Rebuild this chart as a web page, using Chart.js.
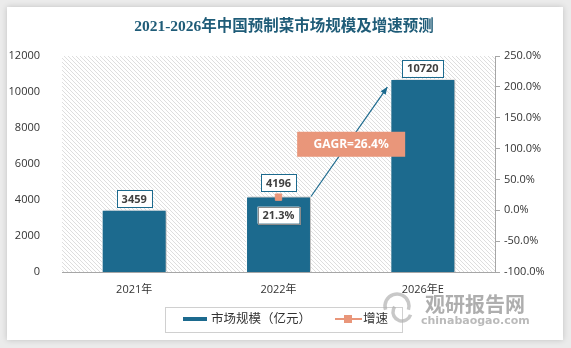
<!DOCTYPE html>
<html>
<head>
<meta charset="utf-8">
<script src="https://cdn.jsdelivr.net/npm/chart.js@4.4.1/dist/chart.umd.min.js"></script>
<style>
  html, body { margin: 0; padding: 0; background: #ebebeb; }
  #wrap { width: 571px; height: 348px; position: relative; }
</style>
</head>
<body>
<div id="wrap"><canvas id="MarketChart" width="571" height="348"></canvas></div>
<script>
var years = ['2021年', '2022年', '2026年E'];
var scaleValues = [3459, 4196, 10720];
var growthValues = [null, 21.3, null];
var cagrText = 'GAGR=26.4%';

var blue = '#1c6a8e';
var salmon = '#e9967a';
var font = '"Open Sans", "Noto Sans CJK SC", sans-serif';

// diagonal hatching for the plot area
function hatchPattern(ctx) {
    var c = document.createElement('canvas');
    c.width = 4; c.height = 4;
    var g = c.getContext('2d');
    g.fillStyle = '#ffffff';
    g.fillRect(0, 0, 4, 4);
    g.strokeStyle = '#dedede';
    g.lineWidth = 1;
    g.beginPath();
    g.moveTo(-1, -1); g.lineTo(5, 5);
    g.moveTo(-1, 3); g.lineTo(1, 5);
    g.moveTo(3, -1); g.lineTo(5, 1);
    g.stroke();
    return ctx.createPattern(c, 'repeat');
}

function labelBox(ctx, text, cx, cy, opts) {
    ctx.font = 'bold 11px ' + font;
    var w = ctx.measureText(text).width + 10;
    var h = 17;
    ctx.save();
    if (opts.shadow) {
        ctx.shadowColor = 'rgba(0,0,0,0.35)';
        ctx.shadowBlur = 3;
        ctx.shadowOffsetX = 1;
        ctx.shadowOffsetY = 1;
    }
    ctx.fillStyle = '#ffffff';
    ctx.fillRect(cx - w / 2, cy - h / 2, w, h);
    ctx.restore();
    ctx.strokeStyle = opts.border;
    ctx.lineWidth = 1;
    ctx.strokeRect(Math.round(cx - w / 2) + 0.5, Math.round(cy - h / 2) + 0.5, Math.round(w), h);
    ctx.fillStyle = '#404040';
    ctx.textAlign = 'center';
    ctx.textBaseline = 'middle';
    ctx.fillText(text, cx, cy + 1);
}

var decor = {
    id: 'decor',
    beforeDraw: function (chart) {
        var ctx = chart.ctx;
        var a = chart.chartArea;
        ctx.save();
        // card
        ctx.shadowColor = 'rgba(0,0,0,0.18)';
        ctx.shadowBlur = 6;
        ctx.fillStyle = '#ffffff';
        ctx.fillRect(7, 7, 556, 333);
        ctx.restore();
        ctx.save();
        ctx.fillStyle = hatchPattern(ctx);
        ctx.fillRect(a.left, a.top, a.right - a.left, a.bottom - a.top);
        // title
        ctx.fillStyle = '#1f5c78';
        ctx.font = 'bold 15.5px "Liberation Serif", "Noto Sans CJK SC", serif';
        ctx.textAlign = 'center';
        ctx.textBaseline = 'middle';
        ctx.fillText('2021-2026年中国预制菜市场规模及增速预测', 284, 27);
        ctx.restore();
    },
    beforeDatasetDraw: function (chart, args) {
        if (args.index === 0) {
            chart.ctx.save();
            chart.ctx.shadowColor = 'rgba(0,0,0,0.3)';
            chart.ctx.shadowBlur = 3;
            chart.ctx.shadowOffsetX = 2;
        }
    },
    afterDatasetDraw: function (chart, args) {
        if (args.index === 0) chart.ctx.restore();
    },
    afterDatasetsDraw: function (chart) {
        var ctx = chart.ctx;
        var bars = chart.getDatasetMeta(0).data;
        var pts = chart.getDatasetMeta(1).data;
        ctx.save();

        // arrow from 2022 bar to 2026 bar
        var b1 = bars[1], b2 = bars[2];
        var x0 = b1.x + b1.width / 2, y0 = b1.y;
        var x1 = b2.x - b2.width / 2 - 3, y1 = b2.y + 8;
        ctx.strokeStyle = blue;
        ctx.fillStyle = blue;
        ctx.lineWidth = 1.2;
        ctx.beginPath();
        ctx.moveTo(x0, y0);
        ctx.lineTo(x1, y1);
        ctx.stroke();
        var ang = Math.atan2(y1 - y0, x1 - x0);
        ctx.beginPath();
        ctx.moveTo(x1, y1);
        ctx.lineTo(x1 - 8 * Math.cos(ang - 0.4), y1 - 8 * Math.sin(ang - 0.4));
        ctx.lineTo(x1 - 8 * Math.cos(ang + 0.4), y1 - 8 * Math.sin(ang + 0.4));
        ctx.closePath();
        ctx.fill();

        // CAGR tag on the arrow
        var mx = (x0 + x1) / 2 + 2, my = (y0 + y1) / 2 + 2;
        ctx.fillStyle = salmon;
        ctx.fillRect(mx - 54, my - 12, 108, 25);
        ctx.fillStyle = '#ffffff';
        ctx.font = 'bold 12px ' + font;
        ctx.textAlign = 'center';
        ctx.textBaseline = 'middle';
        ctx.fillText(cagrText, mx, my + 1);

        // value labels
        bars.forEach(function (b, i) {
            labelBox(ctx, String(scaleValues[i]), b.x, b.y - 11 - (i === 1 ? 3 : 0), { border: blue });
        });
        pts.forEach(function (p, i) {
            if (growthValues[i] == null) return;
            labelBox(ctx, growthValues[i].toFixed(1) + '%', p.x, p.y + 18, { border: '#8c8c8c', shadow: true });
        });

        // legend
        ctx.strokeStyle = '#d0d0d0';
        ctx.lineWidth = 1;
        ctx.strokeRect(165.5, 307.5, 237, 25);
        ctx.fillStyle = blue;
        ctx.fillRect(183, 317, 24, 4);
        ctx.fillStyle = '#333333';
        ctx.font = '12.5px ' + font;
        ctx.textAlign = 'left';
        ctx.textBaseline = 'middle';
        ctx.fillText('市场规模（亿元）', 211, 319);
        ctx.strokeStyle = salmon;
        ctx.lineWidth = 2;
        ctx.beginPath();
        ctx.moveTo(335, 319); ctx.lineTo(362, 319);
        ctx.stroke();
        ctx.fillStyle = salmon;
        ctx.fillRect(344, 315, 8, 8);
        ctx.fillStyle = '#333333';
        ctx.fillText('增速', 363, 319);

        // site mark
        ctx.globalAlpha = 0.7;
        ctx.strokeStyle = '#b0b0b0';
        ctx.lineWidth = 3.5;
        ctx.beginPath();
        ctx.arc(397, 306, 12, Math.PI * 0.9, Math.PI * 2.1);
        ctx.stroke();
        ctx.beginPath();
        ctx.arc(402, 312, 9, Math.PI * 0.1, Math.PI * 1.2);
        ctx.stroke();
        ctx.fillStyle = '#8c8c8c';
        ctx.font = 'bold 20px "Noto Sans CJK SC", sans-serif';
        ctx.fillText('观研报告网', 425, 304);
        ctx.font = 'bold 11px "DejaVu Sans", sans-serif';
        ctx.fillStyle = '#9c9c9c';
        ctx.fillText('chinabaogao.com', 421, 321);
        ctx.restore();
    }
};

var config = {
    type: 'bar',
    data: {
        labels: years,
        datasets: [{
            label: '市场规模（亿元）',
            data: scaleValues,
            backgroundColor: blue,
            borderColor: '#ffffff',
            borderWidth: 1,
            barPercentage: 0.45,
            categoryPercentage: 1,
            yAxisID: 'y',
            order: 2
        }, {
            type: 'line',
            label: '增速',
            data: growthValues,
            borderColor: salmon,
            backgroundColor: salmon,
            pointStyle: 'rect',
            pointRadius: 4.5,
            yAxisID: 'y1',
            order: 1
        }]
    },
    options: {
        responsive: false,
        animation: false,
        layout: { padding: { left: 7, right: 14, top: 56, bottom: 46 } },
        plugins: {
            legend: { display: false },
            tooltip: { enabled: false }
        },
        scales: {
            x: {
                grid: { display: true, color: 'transparent', drawTicks: false },
                border: { color: '#a6a6a6' },
                ticks: { color: '#333333', font: { size: 11, family: font }, padding: 11 },
                afterFit: function (s) { s.height = 30; }
            },
            y: {
                position: 'left',
                min: 0, max: 12000,
                ticks: {
                    stepSize: 2000, color: '#333333', font: { size: 11, family: font }, padding: 14,
                    callback: function (v) { return String(v); }
                },
                grid: { display: false },
                border: { display: false },
                afterFit: function (s) { s.width = 55; }
            },
            y1: {
                position: 'right',
                min: -100, max: 250,
                ticks: {
                    stepSize: 50, color: '#333333', font: { size: 11, family: font }, padding: 4,
                    callback: function (v) { return v.toFixed(1) + '%'; }
                },
                grid: { drawOnChartArea: false, color: '#a6a6a6', tickLength: 5 },
                border: { color: '#a6a6a6' },
                afterFit: function (s) { s.width = 62; }
            }
        }
    },
    plugins: [decor]
};

var marketChart = new Chart(document.getElementById('MarketChart'), config);
</script>
</body>
</html>
